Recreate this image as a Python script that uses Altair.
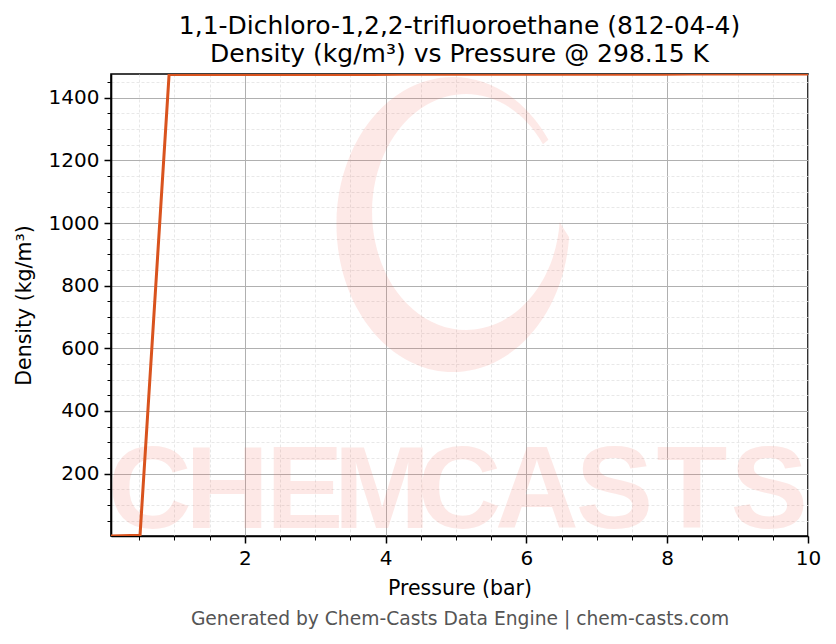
import altair as alt
import pandas as pd

# ---- data ----
pressure_bar = [0.1, 0.5125, 0.925, 1.3375, 1.75, 2.1625, 2.575, 2.9875, 3.4, 3.8125,
                4.225, 4.6375, 5.05, 5.4625, 5.875, 6.2875, 6.7, 7.1125, 7.525, 7.9375,
                8.35, 8.7625, 9.175, 9.5875, 10.0]
density_kgm3 = [0.62, 3.18, 1474.4, 1474.5, 1474.6, 1474.6, 1474.7, 1474.8, 1474.9, 1474.9,
                1475.0, 1475.1, 1475.2, 1475.2, 1475.3, 1475.4, 1475.5, 1475.5, 1475.6, 1475.7,
                1475.8, 1475.8, 1475.9, 1476.0, 1476.1]
x_ticks = [0.5, 1.0, 1.5, 2.0, 2.5, 3.0, 3.5, 4.0, 4.5, 5.0, 5.5, 6.0, 6.5, 7.0, 7.5,
           8.0, 8.5, 9.0, 9.5, 10.0]
y_ticks = [50, 100, 150, 200, 250, 300, 350, 400, 450, 500, 550, 600, 650, 700, 750,
           800, 850, 900, 950, 1000, 1050, 1100, 1150, 1200, 1250, 1300, 1350, 1400, 1450]
watermark_letters = list("CHEMCASTS")

title_lines = ["1,1-Dichloro-1,2,2-trifluoroethane (812-04-4)",
               "Density (kg/m\u00b3) vs Pressure @ 298.15 K"]
footer_text = "Generated by Chem-Casts Data Engine | chem-casts.com"

FONT = "DejaVu Sans"
W, H = 697, 462

df = pd.DataFrame({"p": pressure_bar, "rho": density_kgm3})
wm = pd.DataFrame({"i": list(range(len(watermark_letters))), "ch": watermark_letters})


def cond(test, major, minor):
    return {"condition": {"test": test, "value": major}, "value": minor}


xmaj = "datum.value % 2 === 0"
ymaj = "datum.value % 200 === 0"

x_axis = alt.Axis(
    values=x_ticks, title="Pressure (bar)", labelOverlap=False, labelFlush=False, grid=True,
    labelExpr="datum.value % 2 === 0 ? format(datum.value, 'd') : ''",
    tickSize=cond(xmaj, 7, 4), tickWidth=cond(xmaj, 1.5, 1.0),
    gridColor=cond(xmaj, "#b0b0b0", "#e2e2e2"), gridDash=cond(xmaj, [], [3, 2]),
    gridWidth=cond(xmaj, 1.0, 0.8), titlePadding=10,
)
y_axis = alt.Axis(
    values=y_ticks, title="Density (kg/m\u00b3)", labelOverlap=False, grid=True,
    labelExpr="datum.value % 200 === 0 ? format(datum.value, 'd') : ''",
    tickSize=cond(ymaj, 7, 4), tickWidth=cond(ymaj, 1.5, 1.0),
    gridColor=cond(ymaj, "#b0b0b0", "#e2e2e2"), gridDash=cond(ymaj, [], [3, 2]),
    gridWidth=cond(ymaj, 1.0, 0.8), titlePadding=14,
)

# crescent logo (decorative watermark), path in unit coordinates
logo_path = ("M 0.787 0.087 A 0.79 1 0 1 1 0.647 -0.574 "
             "L 0.610 -0.544 A 0.637 0.8 0 1 0 0.723 -0.015 Z")
logo = alt.Chart(pd.DataFrame({"k": [0]})).mark_point(
    shape=logo_path, filled=True, fill="#f26b5b", opacity=0.15, strokeWidth=0
).encode(x=alt.value(342), y=alt.value(150.5), size=alt.value(87025))

letters = alt.Chart(wm).mark_text(
    font="Liberation Sans", fontWeight="bold",
    fontSize=116, baseline="alphabetic", align="center", color="#f26b5b", opacity=0.15
).encode(
    x=alt.X("i:O", scale=alt.Scale(type="point", padding=0.5), axis=None),
    y=alt.value(454), text="ch:N",
)

line = alt.Chart(df).mark_line(color="#d9531e", strokeWidth=3, clip=True).encode(
    x=alt.X("p:Q", axis=x_axis, scale=alt.Scale(domain=[0.1, 10.0], nice=False, zero=False)),
    y=alt.Y("rho:Q", axis=y_axis, scale=alt.Scale(domain=[0.62, 1476.1], nice=False, zero=False)),
)

footer = alt.Chart(pd.DataFrame({"t": [footer_text]})).mark_text(
    font=FONT, fontSize=18.7, color="#555555", align="center", baseline="middle"
).encode(x=alt.value(349), y=alt.value(545), text="t:N")

chart = alt.layer(logo, letters, line, footer).resolve_scale(x="independent").properties(
    width=W, height=H, background="white",
    title=alt.TitleParams(text=title_lines, fontSize=25, font=FONT, fontWeight="normal",
                          color="black", lineHeight=28, anchor="middle", offset=5),
    autosize=alt.AutoSizeParams(type="none"),
    padding={"left": 103, "top": 66, "right": 20, "bottom": 100},
).configure_view(stroke="black", strokeWidth=1.6).configure_axis(
    labelFont=FONT, titleFont=FONT, labelFontSize=20, titleFontSize=20.5,
    labelColor="black", titleColor="black", titleFontWeight="normal",
    domainColor="black", domainWidth=1.6, tickColor="black",
    labelPadding=5,
)

chart.save("out.html", embed_options={"renderer": "svg", "actions": False})
